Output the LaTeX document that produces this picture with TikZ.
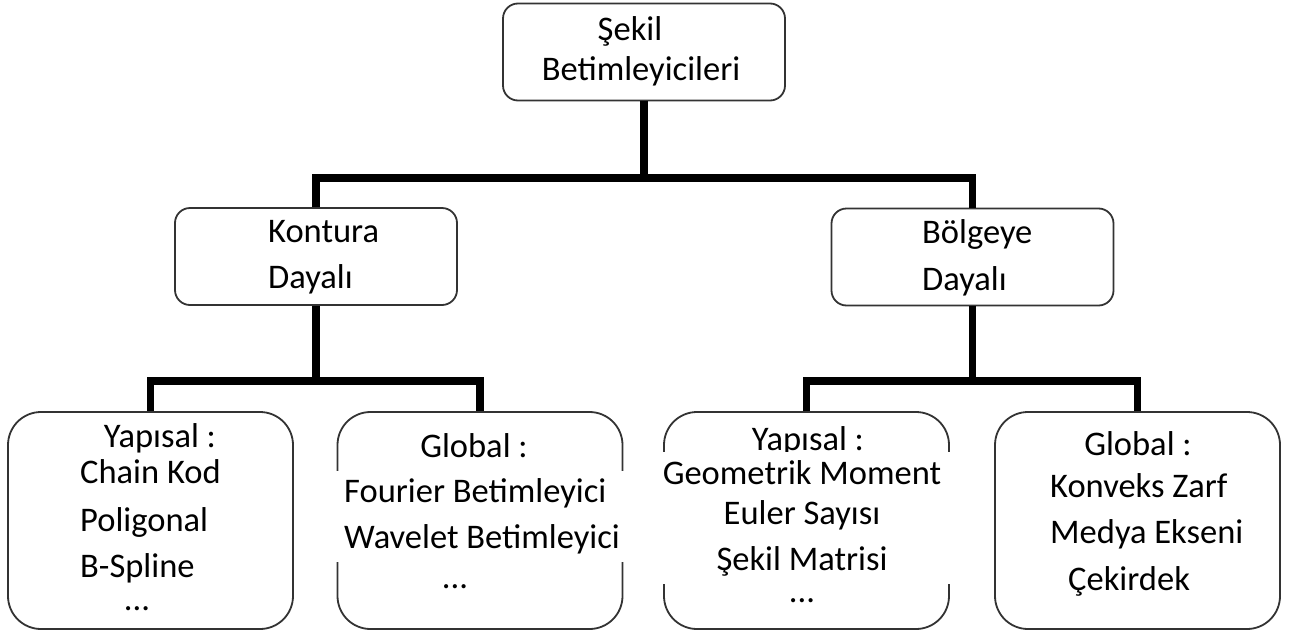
\documentclass[tikz,border=0pt]{standalone}
\usepackage{fontspec}
\setmainfont{Carlito}
\tikzset{
  box/.style={draw=black!80, line width=1.8pt, rounded corners=15pt, inner sep=0pt, minimum width=282pt, minimum height=97pt},
  bigbox/.style={box, rounded corners=33pt, minimum width=285pt, minimum height=217pt},
  conn/.style={line width=7.5pt, line join=miter},
  txt/.style={font=\fontsize{34.5}{46}\selectfont, inner sep=0pt},
  cover/.style={txt, fill=white}
}

\begin{document}
\begin{tikzpicture}[x=1pt,y=-1pt]
\useasboundingbox (0,0) rectangle (1293,635);
\node[box] (sekil) at (644,52) {};
\node[box] (kontur) at (316,256.5) {};
\node[box] (bolge) at (972.5,257) {};
\node[bigbox] (kyap) at (150.5,520.5) {};
\node[bigbox] (kglob) at (480,520.5) {};
\node[bigbox] (byap) at (806.5,520.5) {};
\node[bigbox] (bglob) at (1137.5,520.5) {};
\coordinate (j0) at (644,178);
\coordinate (j1) at (316,381);
\coordinate (j2) at (972.5,381);
\draw[conn] (sekil.south) -- (j0);
\draw[conn] (kontur.north) |- (j0) -| (bolge.north);
\draw[conn] (kontur.south) -- (j1);
\draw[conn] (kyap.north) |- (j1) -| (kglob.north);
\draw[conn] (bolge.south) -- (j2);
\draw[conn] (byap.north) |- (j2) -| (bglob.north);
\node[txt, anchor=base] (s1) at (630,40) {Şekil};
\node[txt, anchor=base] (s2) at (641,80) {Betimleyicileri};
\node[txt, anchor=base west] (k1) at (268,242) {Kontura};
\node[txt, anchor=base west] (k2) at (268,288) {Dayalı};
\node[txt, anchor=base west] (b1) at (922,243) {Bölgeye};
\node[txt, anchor=base west] (b2) at (922,290) {Dayalı};
\node[txt, anchor=base] (ky0) at (160,447) {Yapısal :};
\node[txt, anchor=base west] (ky1) at (80,483) {Chain Kod};
\node[txt, anchor=base west] (ky2) at (80,531) {Poligonal};
\node[txt, anchor=base west] (ky3) at (80,577) {B-Spline};
\node[txt, anchor=base] (ky4) at (137,610) {...};
\node[txt, anchor=base] (kg0) at (474,457) {Global :};
\node[cover, align=left, minimum width=296pt, minimum height=91pt] (kg1) at (482,516) {Fourier Betimleyici\\Wavelet Betimleyici};
\node[txt, anchor=base] (kg2) at (455,588) {...};
\node[txt, anchor=base] (by0) at (808,450) {Yapısal :};
\node[cover, align=center, font=\fontsize{34.5}{40}\selectfont, minimum width=300pt, minimum height=132pt] (by1) at (802,518) {Geometrik Moment\\Euler Sayısı\\[6pt]Şekil Matrisi};
\node[txt, anchor=base] (by2) at (802,602) {...};
\node[txt, anchor=base] (bg0) at (1138,455) {Global :};
\node[txt, anchor=base west] (bg1) at (1050,497) {Konveks Zarf};
\node[txt, anchor=base west] (bg2) at (1050,543) {Medya Ekseni};
\node[txt, anchor=base west] (bg3) at (1068,590) {Çekirdek};
\end{tikzpicture}
\end{document}
